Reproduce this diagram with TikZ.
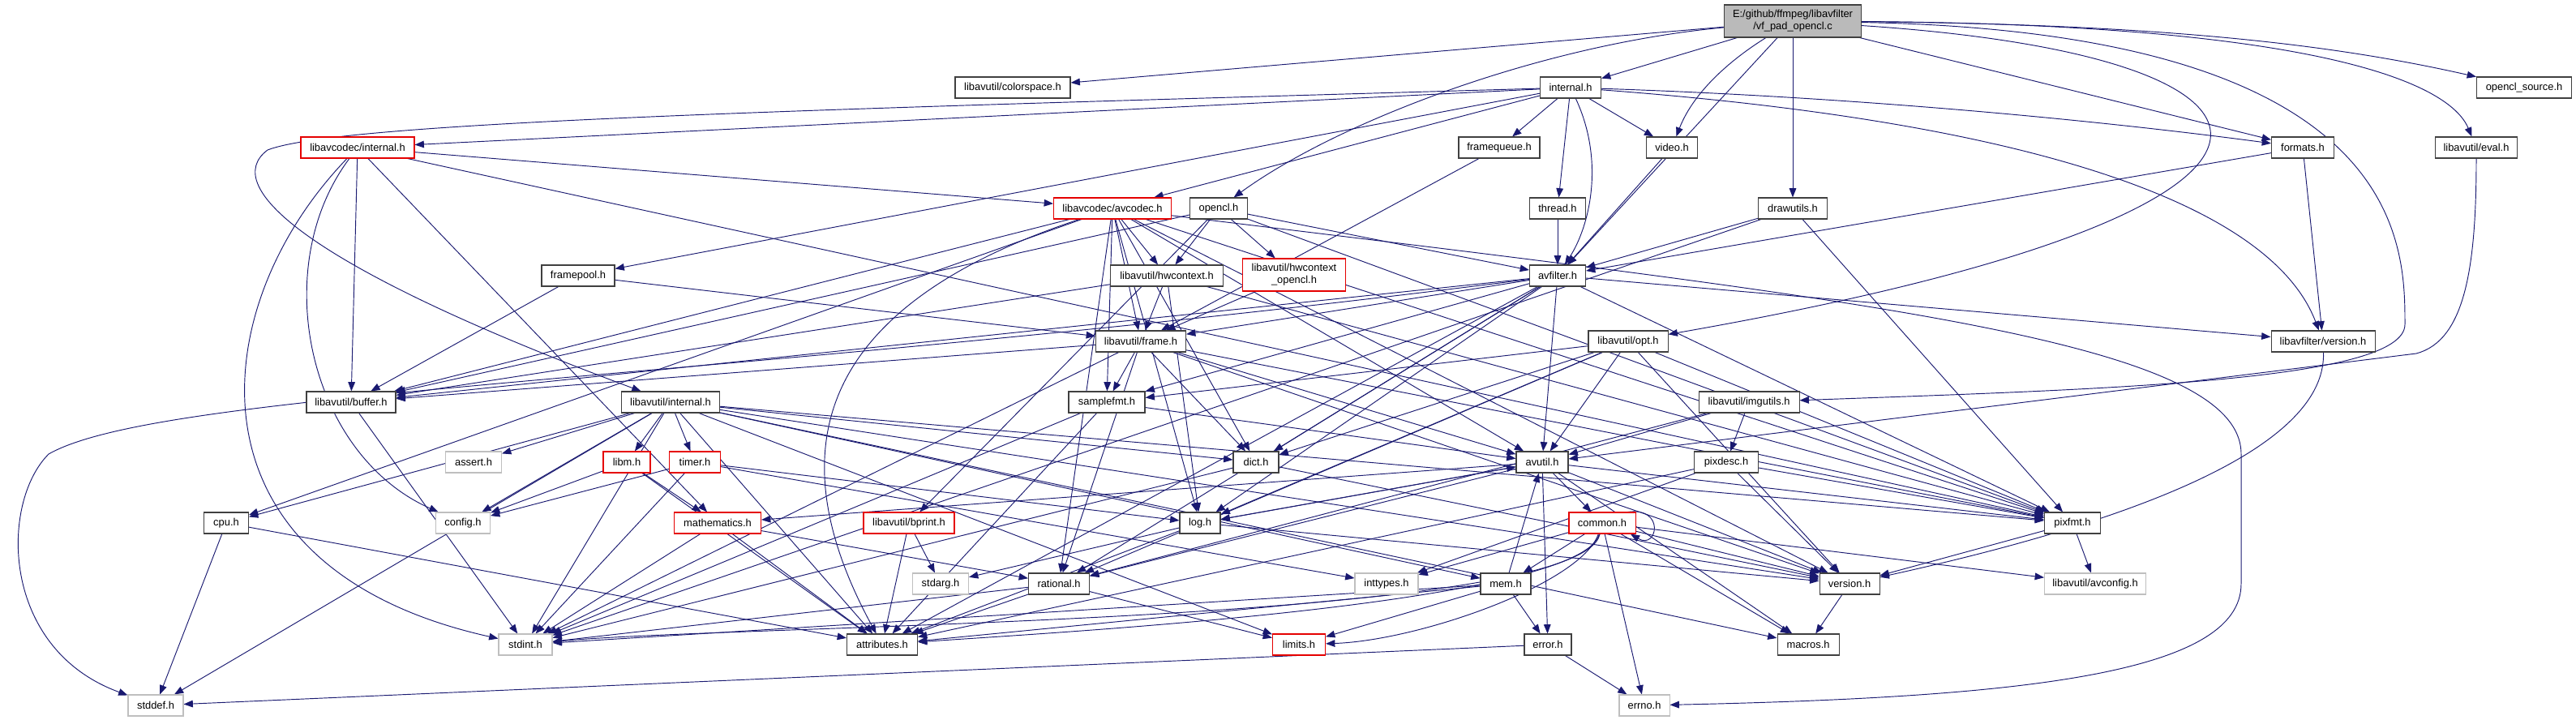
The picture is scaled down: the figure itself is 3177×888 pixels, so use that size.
\documentclass[tikz,border=0pt]{standalone}
\usepackage{fontspec}
\setmainfont{Liberation Sans}
\usetikzlibrary{arrows.meta,backgrounds}

\definecolor{edgeblue}{HTML}{191970}

\begin{document}
\begin{tikzpicture}[x=0.3mm,y=-0.3mm,
	hdr/.style={draw=black!75,fill=white,line width=0.9pt,font=\fontsize{11}{13}\selectfont,inner sep=0pt,minimum height=7.8mm},
	hdrred/.style={hdr,draw=red!90!black},
	hdrsys/.style={hdr,draw=black!25},
	hdrroot/.style={hdr,fill=black!27,align=center,minimum height=12mm},
	wd/.style={minimum width=#1*0.3mm},
	dep/.style={draw=edgeblue,line width=0.8pt,-{Triangle[length=3.4mm,width=2.6mm]}}]
				\useasboundingbox (0,0) rectangle (3177,888);
				% row 1-4
				\node[hdrroot,wd=169] (root) at (2211,26) {E:/github/ffmpeg/libavfilter\\/vf\_pad\_opencl.c};
				\node[hdr,wd=142] (colorspace) at (1249,108) {libavutil/colorspace.h};
				\node[hdr,wd=75] (lavfint) at (1937,108) {internal.h};
				\node[hdr,wd=117] (openclsrc) at (3113,108) {opencl\_source.h};
				\node[hdrred,wd=140] (lavcint) at (441,182) {libavcodec/internal.h};
				\node[hdr,wd=100] (framequeue) at (1849,182) {framequeue.h};
				\node[hdr,wd=63] (video) at (2062,182) {video.h};
				\node[hdr,wd=77] (formats) at (2840,182) {formats.h};
				\node[hdr,wd=101] (evalh) at (3054,182) {libavutil/eval.h};
				\node[hdrred,wd=145] (avcodec) at (1372,257) {libavcodec/avcodec.h};
				\node[hdr,wd=71] (opencl) at (1503,257) {opencl.h};
				\node[hdr,wd=69] (thread) at (1921,257) {thread.h};
				\node[hdr,wd=85] (drawutils) at (2211,257) {drawutils.h};
				% row 5-7
				\node[hdr,wd=90] (framepool) at (713,340) {framepool.h};
				\node[hdr,wd=139] (hwcontext) at (1439,340) {libavutil/hwcontext.h};
				\node[hdrred,wd=127,minimum height=12mm,align=center] (hwcl) at (1596,339) {libavutil/hwcontext\\\_opencl.h};
				\node[hdr,wd=69] (avfilter) at (1921,340) {avfilter.h};
				\node[hdr,wd=111] (frame) at (1407,421) {libavutil/frame.h};
				\node[hdr,wd=98] (opt) at (2008,421) {libavutil/opt.h};
				\node[hdr,wd=128] (lavfversion) at (2865,421) {libavfilter/version.h};
				\node[hdr,wd=110] (buffer) at (433,496) {libavutil/buffer.h};
				\node[hdr,wd=121] (lavuint) at (827,496) {libavutil/internal.h};
				\node[hdr,wd=94] (samplefmt) at (1365,496) {samplefmt.h};
				\node[hdr,wd=124] (imgutils) at (2157,496) {libavutil/imgutils.h};
				% row 8-9
				\node[hdrsys,wd=69] (assert) at (584,570) {assert.h};
				\node[hdrred,wd=58] (libm) at (773,570) {libm.h};
				\node[hdrred,wd=63] (timer) at (857,570) {timer.h};
				\node[hdr,wd=56] (dict) at (1549,570) {dict.h};
				\node[hdr,wd=64] (avutil) at (1902,570) {avutil.h};
				\node[hdr,wd=79] (pixdesc) at (2129,570) {pixdesc.h};
				\node[hdr,wd=55] (cpu) at (279,645) {cpu.h};
				\node[hdrsys,wd=67] (config) at (571,645) {config.h};
				\node[hdrred,wd=107] (mathematics) at (885,645) {mathematics.h};
				\node[hdrred,wd=112] (bprint) at (1121,645) {libavutil/bprint.h};
				\node[hdr,wd=50] (log) at (1480,645) {log.h};
				\node[hdrred,wd=82] (common) at (1976,645) {common.h};
				\node[hdr,wd=69] (pixfmt) at (2556,645) {pixfmt.h};
				% row 10-12
				\node[hdrsys,wd=69] (stdarg) at (1160,720) {stdarg.h};
				\node[hdr,wd=75] (rational) at (1306,720) {rational.h};
				\node[hdrsys,wd=78] (inttypes) at (1710,720) {inttypes.h};
				\node[hdr,wd=62] (mem) at (1857,720) {mem.h};
				\node[hdr,wd=74] (version) at (2281,720) {version.h};
				\node[hdrsys,wd=125] (avconfig) at (2584,720) {libavutil/avconfig.h};
				\node[hdrsys,wd=66] (stdint) at (648,795) {stdint.h};
				\node[hdr,wd=87] (attributes) at (1088,795) {attributes.h};
				\node[hdrred,wd=65] (limits) at (1602,795) {limits.h};
				\node[hdr,wd=58] (error) at (1909,795) {error.h};
				\node[hdr,wd=76] (macros) at (2230,795) {macros.h};
				\node[hdrsys,wd=68] (stddef) at (192,870) {stddef.h};
				\node[hdrsys,wd=62] (errno) at (2028,870) {errno.h};

				\begin{pgfonlayer}{background}
				% vf_pad_opencl.c
				\draw[dep] (root) -- (colorspace);
				\draw[dep] (root) -- (lavfint);
				\draw[dep] (root) .. controls (2700,30) and (2900,60) .. (openclsrc);
				\draw[dep] (root) .. controls (2850,30) and (3020,100) .. (evalh);
				\draw[dep] (root) -- (formats);
				\draw[dep] (root) .. controls (2140,70) and (2090,110) .. (video);
				\draw[dep] (root) -- (drawutils);
				\draw[dep] (root) -- (avfilter);
				\draw[dep] (root) .. controls (1900,55) and (1650,150) .. (opencl);
				\draw[dep] (root) .. controls (2880,70) and (2930,260) .. (opt);
				\draw[dep] (root) .. controls (2966,40) and (2966,300) .. (2966,400) .. controls (2966,470) and (2600,480) .. (imgutils);
				% libavfilter/internal.h
				\draw[dep] (lavfint) .. controls (1000,135) and (420,150) .. (330,185) .. controls (270,230) and (380,330) .. (lavuint);
				\draw[dep] (lavfint) .. controls (1980,200) and (1960,280) .. (avfilter);
				\draw[dep] (lavfint) .. controls (2300,120) and (2600,150) .. (formats);
				\draw[dep] (lavfint) -- (framepool);
				\draw[dep] (lavfint) -- (framequeue);
				\draw[dep] (lavfint) -- (thread);
				\draw[dep] (lavfint) .. controls (2500,150) and (2800,250) .. (lavfversion);
				\draw[dep] (lavfint) -- (video);
				\draw[dep] (lavfint) -- (avcodec);
				\draw[dep] (lavfint) -- (lavcint);
				% libavcodec/internal.h
				\draw[dep] (lavcint) .. controls (250,380) and (220,700) .. (stdint);
				\draw[dep] (lavcint) -- (buffer);
				\draw[dep] (lavcint) -- (mathematics);
				\draw[dep] (lavcint) -- (pixfmt);
				\draw[dep] (lavcint) -- (avcodec);
				\draw[dep] (lavcint) .. controls (330,330) and (380,560) .. (config);
				% libavcodec/avcodec.h
				\draw[dep] (avcodec) .. controls (2300,370) and (2764,420) .. (2764,560) -- (2764,720) .. controls (2764,830) and (2500,860) .. (errno);
				\draw[dep] (avcodec) -- (samplefmt);
				\draw[dep] (avcodec) .. controls (1000,380) and (960,560) .. (attributes);
				\draw[dep] (avcodec) -- (avutil);
				\draw[dep] (avcodec) -- (buffer);
				\draw[dep] (avcodec) -- (cpu);
				\draw[dep] (avcodec) -- (dict);
				\draw[dep] (avcodec) -- (frame);
				\draw[dep] (avcodec) -- (hwcontext);
				\draw[dep] (avcodec) -- (log);
				\draw[dep] (avcodec) -- (pixfmt);
				\draw[dep] (avcodec) -- (rational);
				\draw[dep] (avcodec) -- (version);
				% opencl.h and small headers
				\draw[dep] (opencl) -- (bprint);
				\draw[dep] (opencl) -- (buffer);
				\draw[dep] (opencl) -- (hwcontext);
				\draw[dep] (opencl) -- (hwcl);
				\draw[dep] (opencl) -- (pixfmt);
				\draw[dep] (opencl) -- (avfilter);
				\draw[dep] (thread) -- (avfilter);
				\draw[dep] (video) -- (avfilter);
				\draw[dep] (framequeue) -- (frame);
				\draw[dep] (formats) -- (avfilter);
				\draw[dep] (formats) -- (lavfversion);
				\draw[dep] (drawutils) -- (stdint);
				\draw[dep] (drawutils) -- (avfilter);
				\draw[dep] (drawutils) -- (pixfmt);
				\draw[dep] (evalh) .. controls (3054,330) and (3040,420) .. (2980,436) -- (avutil);
				\draw[dep] (framepool) -- (buffer);
				\draw[dep] (framepool) -- (frame);
				% avfilter.h
				\draw[dep] (avfilter) .. controls (900,470) and (200,480) .. (60,560) .. controls (0,620) and (0,800) .. (stddef);
				\draw[dep] (avfilter) -- (attributes);
				\draw[dep] (avfilter) -- (avutil);
				\draw[dep] (avfilter) -- (buffer);
				\draw[dep] (avfilter) -- (dict);
				\draw[dep] (avfilter) -- (frame);
				\draw[dep] (avfilter) -- (log);
				\draw[dep] (avfilter) -- (samplefmt);
				\draw[dep] (avfilter) -- (pixfmt);
				\draw[dep] (avfilter) -- (rational);
				\draw[dep] (avfilter) -- (lavfversion);
				% hwcontext, frame, opt
				\draw[dep] (hwcontext) -- (buffer);
				\draw[dep] (hwcontext) -- (frame);
				\draw[dep] (hwcontext) -- (log);
				\draw[dep] (hwcontext) -- (pixfmt);
				\draw[dep] (hwcl) -- (frame);
				\draw[dep] (frame) -- (stdint);
				\draw[dep] (frame) -- (avutil);
				\draw[dep] (frame) -- (buffer);
				\draw[dep] (frame) -- (dict);
				\draw[dep] (frame) -- (rational);
				\draw[dep] (frame) -- (samplefmt);
				\draw[dep] (frame) -- (pixfmt);
				\draw[dep] (frame) -- (version);
				\draw[dep] (opt) -- (rational);
				\draw[dep] (opt) -- (avutil);
				\draw[dep] (opt) -- (dict);
				\draw[dep] (opt) -- (log);
				\draw[dep] (opt) -- (pixfmt);
				\draw[dep] (opt) -- (samplefmt);
				\draw[dep] (opt) -- (version);
				\draw[dep] (lavfversion) .. controls (2870,560) and (2600,650) .. (version);
				% libavutil/internal.h
				\draw[dep] (lavuint) -- (limits);
				\draw[dep] (lavuint) -- (stdint);
				\draw[dep] (lavuint) -- (stddef);
				\draw[dep] (lavuint) -- (assert);
				\draw[dep] (lavuint) -- (config);
				\draw[dep] (lavuint) -- (attributes);
				\draw[dep] (lavuint) -- (timer);
				\draw[dep] (lavuint) -- (cpu);
				\draw[dep] (lavuint) -- (dict);
				\draw[dep] (lavuint) -- (macros);
				\draw[dep] (lavuint) -- (mem);
				\draw[dep] (lavuint) -- (pixfmt);
				\draw[dep] (lavuint) -- (version);
				\draw[dep] (lavuint) -- (libm);
				% middle rows
				\draw[dep] (samplefmt) -- (stdint);
				\draw[dep] (samplefmt) -- (avutil);
				\draw[dep] (samplefmt) -- (attributes);
				\draw[dep] (imgutils) -- (avutil);
				\draw[dep] (imgutils) -- (pixdesc);
				\draw[dep] (imgutils) -- (rational);
				\draw[dep] (libm) -- (config);
				\draw[dep] (libm) -- (attributes);
				\draw[dep] (libm) -- (mathematics);
				\draw[dep] (timer) -- (config);
				\draw[dep] (timer) -- (stdint);
				\draw[dep] (timer) -- (inttypes);
				\draw[dep] (timer) -- (log);
				\draw[dep] (dict) -- (stdint);
				\draw[dep] (dict) -- (version);
				\draw[dep] (avutil) -- (common);
				\draw[dep] (avutil) -- (error);
				\draw[dep] (avutil) -- (rational);
				\draw[dep] (avutil) -- (version);
				\draw[dep] (avutil) -- (macros);
				\draw[dep] (avutil) -- (mathematics);
				\draw[dep] (avutil) -- (log);
				\draw[dep] (avutil) -- (pixfmt);
				\draw[dep] (pixdesc) -- (inttypes);
				\draw[dep] (pixdesc) -- (attributes);
				\draw[dep] (pixdesc) -- (pixfmt);
				\draw[dep] (pixdesc) -- (version);
				\draw[dep] (pixfmt) -- (avconfig);
				\draw[dep] (pixfmt) -- (version);
				\draw[dep] (cpu) -- (stddef);
				\draw[dep] (cpu) -- (attributes);
				\draw[dep] (mathematics) -- (stdint);
				\draw[dep] (mathematics) -- (attributes);
				\draw[dep] (mathematics) -- (rational);
				\draw[dep] (bprint) -- (stdarg);
				\draw[dep] (bprint) -- (attributes);
				\draw[dep] (log) -- (stdarg);
				\draw[dep] (log) -- (avutil);
				\draw[dep] (log) -- (attributes);
				\draw[dep] (log) -- (version);
				% common.h
				\draw[dep] ([xshift=-3mm]common.north east) .. controls +(14mm,2mm) and +(10mm,-6mm) .. ([xshift=-2mm]common.south east);
				\draw[dep] (common) -- (errno);
				\draw[dep] (common) -- (inttypes);
				\draw[dep] (common) .. controls (1950,720) and (1750,790) .. (limits);
				\draw[dep] (common) .. controls (1950,770) and (900,770) .. (stdint);
				\draw[dep] (common) .. controls (1950,745) and (1300,780) .. (attributes);
				\draw[dep] (common) -- (macros);
				\draw[dep] (common) -- (version);
				\draw[dep] (common) -- (avconfig);
				\draw[dep] (common) -- (mem);
				% bottom rows
				\draw[dep] (mem) -- (limits);
				\draw[dep] (mem) -- (stdint);
				\draw[dep] (mem) -- (attributes);
				\draw[dep] (mem) -- (error);
				\draw[dep] (mem) -- (avutil);
				\draw[dep] (rational) -- (stdint);
				\draw[dep] (rational) -- (limits);
				\draw[dep] (rational) -- (attributes);
				\draw[dep] (error) -- (errno);
				\draw[dep] (error) -- (stddef);
				\draw[dep] (version) -- (macros);
				\draw[dep] (buffer) -- (stdint);
				\end{pgfonlayer}
			\end{tikzpicture}
\end{document}
